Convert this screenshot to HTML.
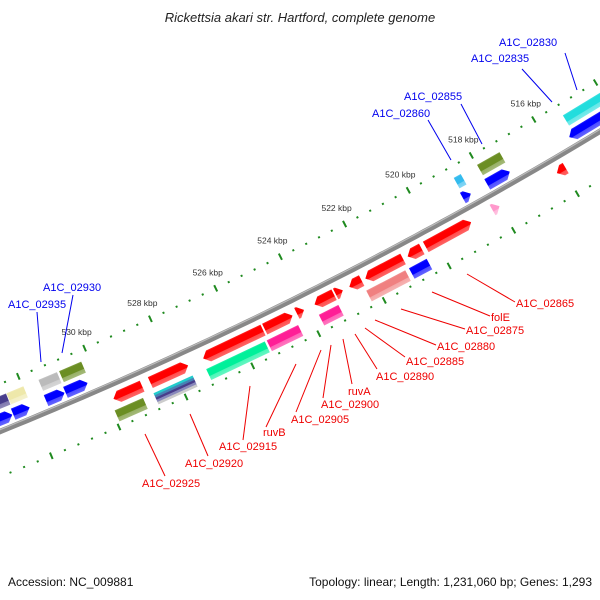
<!DOCTYPE html>
<html><head><meta charset="utf-8">
<style>
html,body{margin:0;padding:0;background:#fff;}
svg{display:block;font-family:"Liberation Sans",sans-serif;}
</style></head>
<body>
<svg id="map" width="600" height="600" viewBox="0 0 600 600" xmlns="http://www.w3.org/2000/svg">
<defs id="defs"></defs>
<text x="300" y="22" text-anchor="middle" font-size="13" font-style="italic" fill="#222">Rickettsia akari str. Hartford, complete genome</text>
<g id="ticks"></g>
<g id="backbone"></g>
<g id="genes"></g>
<g id="labels"></g>
<text x="8" y="586" font-size="12" fill="#111">Accession: NC_009881</text>
<text x="592" y="586" text-anchor="end" font-size="12" fill="#111">Topology: linear; Length: 1,231,060 bp; Genes: 1,293</text>
</svg>
<script>
// ---- data (kbp) ----
var tickKbp = [516, 518, 520, 522, 524, 526, 528, 530];
var tickLabels = ["516 kbp","518 kbp","520 kbp","522 kbp","524 kbp","526 kbp","528 kbp","530 kbp"];
var geneStart = [528.97,527.59,525.32,524.42,524.07,523.15,522.88,522.30,521.02,520.44,518.90,518.01,515.92,
                 529.08,527.59,525.41,524.40,523.17,521.11,520.45,
                 513.0,517.30,518.53,530.31,531.00,532.04,532.56,
                 513.0,517.28,518.51,530.24,530.97,531.98,532.50];
var geneEnd   = [529.83,528.73,527.14,525.27,524.29,523.75,523.10,522.68,522.19,520.88,520.32,518.23,516.20,
                 529.93,528.77,527.19,525.36,523.77,522.32,521.00,
                 515.40,518.01,518.78,530.97,531.55,532.53,533.30,
                 515.24,517.99,518.73,530.90,531.52,532.48,533.30];
var geneTrack = [1,1,1,1,1,1,1,1,1,1,1,1,1,
                 2,2,2,2,2,2,2,
                 -1,-1,-1,-1,-1,-1,-1,
                 -2,-2,-2,-2,-2,-2,-2];
var geneDir   = [-1,1,-1,1,1,-1,1,-1,-1,-1,1,1,-1,
                 0,0,0,0,0,0,0,
                 -1,1,1,1,1,1,1,
                 0,0,0,0,0,0,0];
var geneColor = ["#ff0000","#ff0000","#ff0000","#ff0000","#ff0000","#ff0000","#ff0000","#ff0000","#ff0000","#ff0000","#ff0000","#ff99cc","#ff0000",
                 "#6b8e23","stripe","#00f09a","#ff1e96","#ff1e96","#f08080","#0000ff",
                 "#0000ff","#0000ff","#0000ff","#0000ff","#0000ff","#0000ff","#0000ff",
                 "#22dddd","#6b8e23","#33bbee","#6b8e23","#bbbbbb","#eee8aa","#483d8b"];

// ---- geometry ----
var NS="http://www.w3.org/2000/svg";
var R=4275, PXK=36.4, KC=524;
var th0=Math.atan2(0.895,0.446);
var C=[300-R*0.446, 296-R*0.895];
var trackV={"1":14,"2":31,"-1":-11,"-2":-27};
function uOf(k){return (KC-k)*PXK;}
function pt(u,v){var t=th0-u/R;return [C[0]+(R+v)*Math.cos(t), C[1]+(R+v)*Math.sin(t), (t*180/Math.PI)-90];}
function el(n,a){var e=document.createElementNS(NS,n);for(var k in a)e.setAttribute(k,a[k]);return e;}
function lighten(hex,f){var n=parseInt(hex.slice(1),16),r=n>>16,g=(n>>8)&255,b=n&255;
 r=Math.round(r+(255-r)*f);g=Math.round(g+(255-g)*f);b=Math.round(b+(255-b)*f);return "rgb("+r+","+g+","+b+")";}

var defs=document.getElementById('defs');
var gradCache={};
function grad(col){
 if(gradCache[col])return gradCache[col];
 var id="g"+Object.keys(gradCache).length;
 var lg=el('linearGradient',{id:id,x1:0,y1:0,x2:0,y2:1});
 lg.appendChild(el('stop',{offset:0,'stop-color':lighten(col,0.15)}));
 lg.appendChild(el('stop',{offset:0.12,'stop-color':col}));
 lg.appendChild(el('stop',{offset:0.62,'stop-color':col}));
 lg.appendChild(el('stop',{offset:0.66,'stop-color':lighten(col,0.3)}));
 lg.appendChild(el('stop',{offset:1,'stop-color':lighten(col,0.4)}));
 defs.appendChild(lg);gradCache[col]="url(#"+id+")";return gradCache[col];
}
var bg=el('linearGradient',{id:'bbg',x1:0,y1:0,x2:0,y2:1});
bg.appendChild(el('stop',{offset:0,'stop-color':'#bbb'}));
bg.appendChild(el('stop',{offset:0.5,'stop-color':'#777'}));
bg.appendChild(el('stop',{offset:1,'stop-color':'#999'}));
defs.appendChild(bg);

// backbone
var bbg=document.getElementById('backbone');
var d="";
for(var u=-380;u<=380;u+=10){var p=pt(u,0);d+=(u===-380?"M":"L")+p[0].toFixed(1)+","+p[1].toFixed(1);}
var bline=el('path',{d:d,stroke:'#888',fill:'none'});
bline.setAttribute('stroke-width','5.5');


bbg.appendChild(bline);
var bhl=el('path',{d:d,stroke:'#bbb',fill:'none','stroke-width':'1.2',transform:'translate(-0.6,-1.6)'});


bbg.appendChild(bhl);

// ticks
var tg=document.getElementById('ticks');
[-44,42].forEach(function(v){
 for(var i=0;i<=60;i++){
  var k=510+i*0.4;var u=uOf(k);var p=pt(u,v);
  if(p[0]<-10||p[0]>610||p[1]<-10||p[1]>610)continue;
  var major=Math.abs(k/2-Math.round(k/2))<0.01;
  var r=el('rect',{x:major?-1:-1,y:major?-3.5:-1,width:2,height:major?7:2,fill:'#1f8a1f',
    transform:'translate('+p[0].toFixed(1)+','+p[1].toFixed(1)+') rotate('+p[2].toFixed(2)+')'});
  
  
  tg.appendChild(r);
 }
});
tickKbp.forEach(function(k,i){
 var p=pt(uOf(k),-44);
 var t=el('text',{x:(p[0]-8).toFixed(1),y:(p[1]-13).toFixed(1),'text-anchor':'middle','font-size':'8.5',fill:'#333'});
 t.textContent=tickLabels[i];
 
 
 tg.appendChild(t);
});

// genes
var gg=document.getElementById('genes');
var H=12;
for(var i=0;i<geneStart.length;i++){
 var uc=uOf((geneStart[i]+geneEnd[i])/2), w=Math.abs(geneEnd[i]-geneStart[i])*PXK;
 var p=pt(uc,trackV[geneTrack[i]]);
 var g=el('g',{transform:'translate('+p[0].toFixed(1)+','+p[1].toFixed(1)+') rotate('+p[2].toFixed(2)+')'});
 
 
 var hw=w/2,hh=H/2,dir=geneDir[i],col=geneColor[i];
 if(col==='stripe'){
  var sc=['#22cccc','#4682b4','#483d8b','#8888bb','#cccccc'];
  for(var s=0;s<5;s++){var sr=el('rect',{x:-hw,y:-hh+s*H/5,width:w,height:H/5+0.3,fill:sc[s]});
   g.appendChild(sr);}
 } else {
  var a=Math.min(6,w),pd;
  if(dir===1)pd="M"+(-hw)+","+(-hh)+"L"+(hw-a)+","+(-hh)+"L"+hw+",0L"+(hw-a)+","+hh+"L"+(-hw)+","+hh+"Z";
  else if(dir===-1)pd="M"+hw+","+(-hh)+"L"+(-hw+a)+","+(-hh)+"L"+(-hw)+",0L"+(-hw+a)+","+hh+"L"+hw+","+hh+"Z";
  else pd="M"+(-hw)+","+(-hh)+"H"+hw+"V"+hh+"H"+(-hw)+"Z";
  var sh=el('path',{d:pd,fill:grad(col)});
  
  
  g.appendChild(sh);
 }
 gg.appendChild(g);
}

// labels (screen positions)
var labText=["A1C_02830","A1C_02835","A1C_02855","A1C_02860","A1C_02930","A1C_02935",
 "A1C_02865","folE","A1C_02875","A1C_02880","A1C_02885","A1C_02890","ruvA","A1C_02900","A1C_02905","ruvB","A1C_02915","A1C_02920","A1C_02925"];
var labX=[499,471,404,372,43,8, 516,491,466,437,406,376,348,321,291,263,219,185,142];
var labY=[46,62,100,117,291,308, 307,321,334,350,365,380,395,408,423,436,450,467,487];
var lineP=[[565,53,577,90],[522,69,552,102],[461,104,482,144],[428,120,451,160],[73,295,62,353],[37,312,41,362],
 [467,274,515,302],[432,292,490,316],[401,309,465,329],[375,320,436,345],[365,328,405,357],[355,334,377,369],
 [343,339,352,384],[331,345,323,398],[321,350,296,412],[296,364,266,427],[250,386,243,440],[190,414,208,456],[145,434,165,476]];
var lg2=document.getElementById('labels');
for(var i=0;i<labText.length;i++){
 var blue=i<6, c=blue?'#0000ee':'#ee0000';
 var L=lineP[i];
 var ln=el('line',{x1:L[0],y1:L[1],x2:L[2],y2:L[3],stroke:c,'stroke-width':1});
 
 
 lg2.appendChild(ln);
 var t=el('text',{x:labX[i],y:labY[i],'font-size':'11',fill:c});
 t.textContent=labText[i];
 
 
 lg2.appendChild(t);
}
</script>
</body></html>
